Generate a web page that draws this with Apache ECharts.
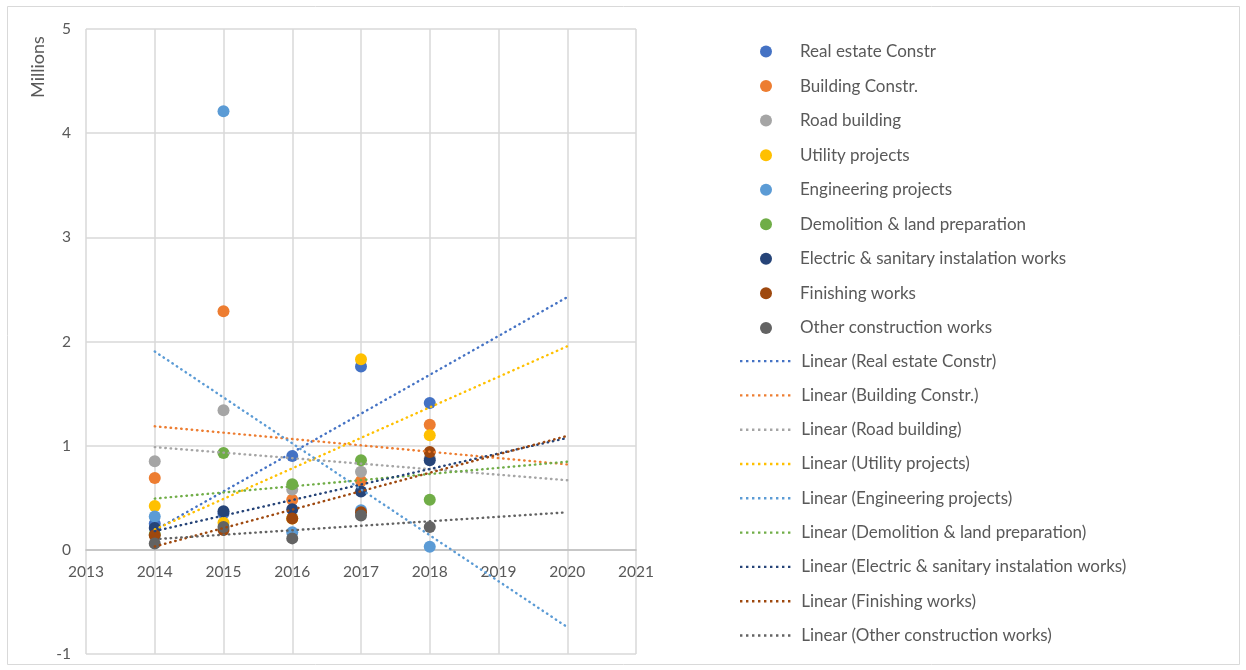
<!DOCTYPE html>
<html>
<head>
<meta charset="utf-8">
<script src="https://cdn.jsdelivr.net/npm/echarts@6/dist/echarts.min.js"></script>
<style>
  html, body { margin: 0; padding: 0; background: #fff; }
  #chart { width: 1246px; height: 670px; }
</style>
</head>
<body>
<div id="chart"></div>
<script>
// Yearly values per construction category, in millions
const years = [2014, 2015, 2016, 2017, 2018];
const categories = [
  'Real estate Constr',
  'Building Constr.',
  'Road building',
  'Utility projects',
  'Engineering projects',
  'Demolition & land preparation',
  'Electric & sanitary instalation works',
  'Finishing works',
  'Other construction works'
];
const realEstate  = [0.25, 0.35, 0.90, 1.76, 1.41];
const building    = [0.69, 2.29, 0.48, 0.66, 1.20];
const road        = [0.85, 1.34, 0.58, 0.75, 0.88];
const utility     = [0.42, 0.26, 0.30, 1.83, 1.10];
const engineering = [0.32, 4.21, 0.17, 0.38, 0.03];
const demolition  = [0.15, 0.93, 0.63, 0.86, 0.48];
const electric    = [0.21, 0.37, 0.39, 0.56, 0.86];
const finishing   = [0.14, 0.19, 0.30, 0.36, 0.94];
const other       = [0.06, 0.22, 0.11, 0.33, 0.22];
const forecastTo = 2020;
const xTicks = [2013, 2021, 1];
const yTicks = [-1, 5, 1];

const values = [realEstate, building, road, utility, engineering, demolition, electric, finishing, other];
const colors = ['#4472C4', '#ED7D31', '#A5A5A5', '#FFC000', '#5B9BD5', '#70AD47', '#264478', '#9E480E', '#636363'];
const FONT = 'Lato, "Open Sans", sans-serif';
const TEXT = '#595959';

// Plot box in pixels
const PLOT = { left: 86, right: 610, top: 29, bottom: 16 };
// Pixel row of the zero line, where the year labels sit
const zeroRow = PLOT.top + (670 - PLOT.top - PLOT.bottom) * (yTicks[1] / (yTicks[1] - yTicks[0]));

// Least-squares linear fit, extended forward to the forecast year
function linearTrend(xs, ys) {
  const n = xs.length;
  const mx = xs.reduce((a, b) => a + b, 0) / n;
  const my = ys.reduce((a, b) => a + b, 0) / n;
  let sxy = 0, sxx = 0;
  for (let i = 0; i < n; i++) {
    sxy += (xs[i] - mx) * (ys[i] - my);
    sxx += (xs[i] - mx) * (xs[i] - mx);
  }
  const slope = sxy / sxx;
  const icpt = my - slope * mx;
  const x0 = Math.min(...xs);
  return [[x0, icpt + slope * x0], [forecastTo, icpt + slope * forecastTo]];
}

const trendNames = categories.map(c => 'Linear (' + c + ')');

// Dotted legend swatch: nine small dots across the key width
let dotPath = 'path://';
for (let k = 0; k < 9; k++) {
  const x = k * 6;
  dotPath += 'M' + x + ',0h2.4v2.4h-2.4z';
}

const scatterSeries = categories.map((name, i) => ({
  name: name,
  type: 'scatter',
  symbol: 'circle',
  symbolSize: 12,
  z: 2,
  itemStyle: { color: colors[i], opacity: 1 },
  emphasis: { disabled: true },
  data: years.map((y, k) => [y, values[i][k]])
}));

const trendSeries = categories.map((name, i) => ({
  name: trendNames[i],
  type: 'line',
  symbol: 'none',
  showSymbol: false,
  z: 3,
  silent: true,
  lineStyle: { color: colors[i], width: 2.4, type: [0.5, 4.8], cap: 'round' },
  itemStyle: { color: colors[i] },
  data: linearTrend(years, values[i])
}));

const chart = echarts.init(document.getElementById('chart'), null, { renderer: 'canvas' });
chart.setOption({
  animation: false,
  backgroundColor: '#fff',
  textStyle: { fontFamily: FONT },
  grid: [
    Object.assign({ containLabel: false, outerBoundsMode: 'none' }, PLOT),
    // carries only the year labels, with its bottom edge on the zero line
    { left: PLOT.left, right: PLOT.right, top: PLOT.top, bottom: 670 - zeroRow, containLabel: false, outerBoundsMode: 'none' }
  ],
  xAxis: [
    {
      type: 'value', gridIndex: 0,
      min: xTicks[0], max: xTicks[1], interval: xTicks[2],
      axisLine: { show: false },
      axisTick: { show: false },
      axisLabel: { show: false },
      splitLine: { show: true, lineStyle: { color: '#D9D9D9', width: 1.5 } }
    },
    {
      type: 'value', gridIndex: 1,
      min: xTicks[0], max: xTicks[1], interval: xTicks[2],
      axisLine: { show: true, onZero: false, lineStyle: { color: '#BFBFBF', width: 1.5 } },
      axisTick: { show: false },
      axisLabel: { color: TEXT, fontSize: 15.5, fontFamily: FONT, margin: 14, formatter: v => String(v) },
      splitLine: { show: false }
    }
  ],
  yAxis: [
    {
      type: 'value', gridIndex: 0,
      min: yTicks[0], max: yTicks[1], interval: yTicks[2],
      axisLine: { show: false },
      axisTick: { show: false },
      axisLabel: { color: TEXT, fontSize: 15.5, fontFamily: FONT, margin: 15 },
      splitLine: { show: true, lineStyle: { color: '#D9D9D9', width: 1.5 } }
    },
    {
      type: 'value', gridIndex: 1, show: false,
      min: 0, max: 1
    }
  ],
  legend: [
    {
      data: categories,
      orient: 'vertical',
      left: 755, top: 38,
      itemWidth: 12, itemHeight: 12, itemGap: 17.55,
      icon: 'circle',
      selectedMode: false,
      textStyle: { color: TEXT, fontSize: 17, fontFamily: FONT, lineHeight: 16, padding: [0, 0, 0, 23] }
    },
    {
      data: trendNames.map(n => ({ name: n, icon: dotPath })),
      orient: 'vertical',
      left: 735, top: 347.6,
      itemWidth: 52, itemHeight: 2.4, itemGap: 17.3,
      selectedMode: false,
      textStyle: { color: TEXT, fontSize: 17, fontFamily: FONT, lineHeight: 16, padding: [0, 0, 0, 5] }
    }
  ],
  graphic: [
    {
      type: 'rect',
      shape: { x: 7.5, y: 6.5, width: 1232, height: 658 },
      style: { fill: 'none', stroke: '#D9D9D9', lineWidth: 1 },
      silent: true, z: -1
    },
    {
      type: 'text',
      x: 38, y: 67,
      rotation: Math.PI / 2,
      style: { text: 'Millions', fill: TEXT, font: '18px ' + FONT, align: 'center', verticalAlign: 'middle' },
      silent: true
    }
  ],
  series: scatterSeries.concat(trendSeries)
});
</script>
</body>
</html>
